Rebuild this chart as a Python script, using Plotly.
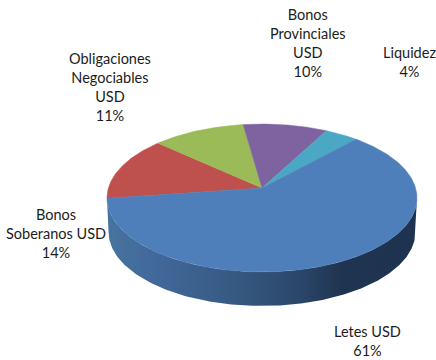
import numpy as np
import plotly.graph_objects as go

# Data, in clockwise order starting from the left edge of the pie
categories = ["Bonos Soberanos USD", "Obligaciones Negociables USD",
              "Bonos Provinciales USD", "Liquidez", "Letes USD"]
label_text = ["Bonos<br>Soberanos USD", "Obligaciones<br>Negociables<br>USD",
              "Bonos<br>Provinciales<br>USD", "Liquidez", "Letes USD"]
values = [14, 11, 10, 4, 61]
colors = ["#BE504D", "#9BBB59", "#7F63A1", "#4AA8C4", "#4E7FBB"]
label_x = [56, 109.5, 308, 409, 367]
label_y = [233, 86.5, 42.5, 61.5, 341]

# Pie projection: a tilted disc seen in perspective (pixel units)
CX, CY = 262.0, 188.0
A, Q, K = 153.6, 72.6, 0.135
DEPTH = 34.0
START = 188.0


def project(t_deg, dy=0.0, scale=1.0):
    t = np.radians(t_deg)
    u, v = np.cos(t), np.sin(t)
    d = 1 + K * v
    return CX + scale * A * u / d, CY - Q * v / d + dy


fig = go.Figure()

# Side wall of the front of the disc
left_t = np.degrees(np.arctan2(-K, -np.sqrt(1 - K * K))) % 360
right_t = 360 + np.degrees(np.arctan2(-K, np.sqrt(1 - K * K)))
arc = np.linspace(left_t, right_t + 0.01, 240)
xt, yt = project(arc)
xb, yb = project(arc, DEPTH, 0.99)
fig.add_trace(go.Scatter(
    x=np.r_[xt, xb[::-1]], y=np.r_[yt, yb[::-1]],
    mode="lines", line=dict(width=0), fill="toself",
    fillgradient=dict(
        type="horizontal", start=107, stop=416,
        colorscale=[[0, "#47749F"], [0.15, "#41699A"], [0.4, "#375A83"],
                    [0.62, "#2B476A"], [0.76, "#1F3450"], [1, "#1D3350"]]),
    hoverinfo="skip", showlegend=False))

# Top face slices
angle = START
for name, val, col in zip(categories, values, colors):
    sweep = val / sum(values) * 360
    ts = np.linspace(angle, angle - sweep, max(int(sweep * 2), 4))
    x, y = project(ts)
    fig.add_trace(go.Scatter(
        x=np.r_[CX, x, CX], y=np.r_[CY, y, CY], name=name,
        mode="lines", line=dict(width=0.5, color=col), fill="toself",
        fillcolor=col, hoverinfo="name", showlegend=False))
    angle -= sweep

# Labels
for txt, val, lx, ly in zip(label_text, values, label_x, label_y):
    fig.add_annotation(x=lx, y=ly, text=f"{txt}<br>{val}%", showarrow=False,
                       xanchor="center", yanchor="middle", align="center",
                       font=dict(family="Lato", size=14.5, color="#1c1c1c"))

fig.update_layout(
    width=436, height=360, margin=dict(l=0, r=0, t=0, b=0),
    paper_bgcolor="white", plot_bgcolor="white",
    xaxis=dict(range=[0, 436], visible=False, fixedrange=True),
    yaxis=dict(range=[360, 0], visible=False, fixedrange=True),
)
fig.write_html("out.html", config=dict(displayModeBar=False),
               post_script="document.body.style.margin='0';document.documentElement.style.overflow='hidden';")
